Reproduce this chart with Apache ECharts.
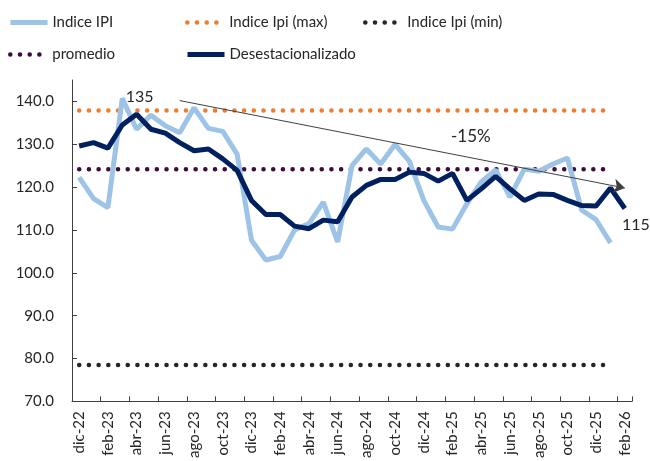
<!DOCTYPE html>
<html>
<head>
<meta charset="utf-8">
<script src="https://cdn.jsdelivr.net/npm/echarts@6/dist/echarts.min.js"></script>
<style>
  html, body { margin: 0; padding: 0; background: #fff; }
  #chart { width: 650px; height: 461px; }
</style>
</head>
<body>
<div id="chart"></div>
<script>
var meses = ['dic-22',
    'ene-23', 'feb-23', 'mar-23', 'abr-23', 'may-23', 'jun-23', 'jul-23', 'ago-23', 'sep-23', 'oct-23', 'nov-23', 'dic-23',
    'ene-24', 'feb-24', 'mar-24', 'abr-24', 'may-24', 'jun-24', 'jul-24', 'ago-24', 'sep-24', 'oct-24', 'nov-24', 'dic-24',
    'ene-25', 'feb-25', 'mar-25', 'abr-25', 'may-25', 'jun-25', 'jul-25', 'ago-25', 'sep-25', 'oct-25', 'nov-25', 'dic-25',
    'ene-26', 'feb-26'];

// Indice IPI (hasta ene-26)
var indiceIpi = [122.3, 117.3, 115.2, 140.7, 133.5, 136.8, 134.3, 132.7, 138.5, 133.7, 133.0, 127.7, 107.6,
    103.0, 103.8, 110.0, 111.5, 116.5, 107.2, 125.0, 128.9, 125.4, 130.0, 126.0, 116.9,
    110.7, 110.2, 116.1, 121.2, 124.0, 117.7, 124.2, 123.7, 125.4, 126.8, 114.6, 112.4, 107.0];

// Desestacionalizado (hasta feb-26)
var desest = [129.6, 130.4, 129.1, 134.5, 137.0, 133.5, 132.6, 130.4, 128.5, 128.9, 126.6, 123.9, 116.9,
    113.6, 113.6, 110.9, 110.3, 112.3, 111.9, 117.7, 120.4, 121.8, 121.8, 123.5, 123.2,
    121.4, 123.2, 116.9, 119.6, 122.5, 119.6, 116.9, 118.4, 118.3, 116.9, 115.7, 115.6, 119.8, 115.0];

var ipiMax = 137.9;
var ipiMin = 78.5;
var promedio = 124.2;
var refDesde = 'dic-22';
var refHasta = 'ene-26';

// flecha de tendencia
var tendInicio = ['jul-23', 140.2];
var tendFin = ['feb-26', 119.8];
var tendTexto = ['mar-25', 132.0];

var yTicks = [70, 80, 90, 100, 110, 120, 130, 140];

var myChart = echarts.init(document.getElementById('chart'));

var fuente = 'Lato';
var txt = '#262626';

function leyenda(nombre, left, top, ancho) {
    return {
        data: [nombre],
        left: left,
        top: top,
        padding: 0,
        itemWidth: 37,
        itemHeight: 14,
        lineStyle: {width: ancho},
        itemStyle: {opacity: 0},
        textStyle: {fontFamily: fuente, fontSize: 15, color: txt}
    };
}

function refSerie(nombre, valor, color) {
    return {
        name: nombre,
        type: 'line',
        symbol: 'none',
        silent: true,
        lineStyle: {color: color, width: 4.5, type: [0.1, 9.6], cap: 'round'},
        itemStyle: {color: color},
        data: [[refDesde, valor], [refHasta, valor]],
        z: 1
    };
}

var etiqueta = {show: true, fontFamily: fuente, fontSize: 16, color: txt};

var option = {
    animation: false,
    backgroundColor: '#fff',
    legend: [
        leyenda('Indice IPI', 8, 15, 5),
        leyenda('Indice Ipi (max)', 185, 15, 4.5),
        leyenda('Indice Ipi (min)', 363, 15, 4.5),
        leyenda('promedio', 8, 47, 4.5),
        leyenda('Desestacionalizado', 185, 47, 5)
    ],
    grid: {left: 72, right: 18, top: 80, bottom: 57, containLabel: false},
    xAxis: {
        type: 'category',
        data: meses,
        boundaryGap: true,
        axisLine: {lineStyle: {color: '#404040', width: 1}},
        axisTick: {show: true, inside: true, length: 5, interval: 1, lineStyle: {color: '#404040'}},
        axisLabel: {interval: 1, rotate: 90, margin: 10, fontFamily: fuente, fontSize: 15, color: txt},
        splitLine: {show: false}
    },
    yAxis: {
        type: 'value',
        min: 70,
        max: 145,
        interval: 10,
        axisLine: {show: true, lineStyle: {color: '#404040', width: 1}},
        axisTick: {show: true, inside: true, length: 5, customValues: yTicks, lineStyle: {color: '#404040'}},
        axisLabel: {
            customValues: yTicks, margin: 18, fontFamily: fuente, fontSize: 15, color: txt,
            formatter: function (v) { return v.toFixed(1); }
        },
        splitLine: {show: false}
    },
    series: [
        {
            name: 'Indice IPI',
            type: 'line',
            symbol: 'none',
            lineStyle: {color: '#9DC3E6', width: 5},
            itemStyle: {color: '#9DC3E6'},
            data: indiceIpi,
            z: 2
        },
        refSerie('Indice Ipi (max)', ipiMax, '#ED7D31'),
        refSerie('Indice Ipi (min)', ipiMin, '#262626'),
        refSerie('promedio', promedio, '#3F0B3F'),
        {
            name: 'Desestacionalizado',
            type: 'line',
            symbol: 'none',
            lineStyle: {color: '#002060', width: 5},
            itemStyle: {color: '#002060'},
            data: desest,
            z: 3,
            markLine: {
                silent: true,
                symbol: ['none', 'arrow'],
                symbolSize: [11, 11],
                label: {show: false},
                lineStyle: {color: '#404040', width: 1, type: 'solid'},
                data: [[{coord: tendInicio}, {coord: tendFin}]]
            },
            markPoint: {
                symbol: 'circle',
                symbolSize: 0,
                silent: true,
                label: etiqueta,
                data: [
                    {coord: ['abr-23', desest[4]], label: {formatter: '135', offset: [3, -17]}},
                    {coord: ['feb-26', desest[38]], label: {formatter: '115', offset: [11, 16]}},
                    {coord: tendTexto, label: {formatter: '-15%', fontSize: 17, offset: [4, 1]}}
                ]
            }
        }
    ]
};

myChart.setOption(option);
window.addEventListener('resize', function () {
    myChart.resize();
});
</script>
</body>
</html>
